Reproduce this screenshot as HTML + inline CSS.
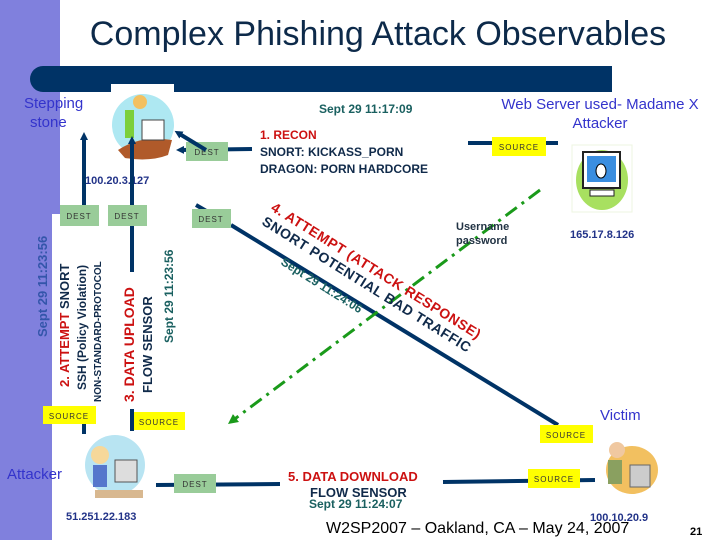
<!DOCTYPE html>
<html><head><meta charset="utf-8"><style>
html,body{margin:0;padding:0;background:#fff;}
svg{display:block;font-family:"Liberation Sans",Arial,sans-serif;font-weight:bold;}
</style></head><body>
<svg width="720" height="540" viewBox="0 0 720 540" xmlns="http://www.w3.org/2000/svg">
<defs>
<marker id="ah" markerWidth="8" markerHeight="8" refX="4" refY="4" orient="auto" markerUnits="userSpaceOnUse"><path d="M0,0 L8,4 L0,8 z" fill="#003366"/></marker>
<marker id="ag" markerWidth="10" markerHeight="10" refX="5" refY="5" orient="auto" markerUnits="userSpaceOnUse"><path d="M0,0 L10,5 L0,10 z" fill="#1a9a1a"/></marker>
</defs>
<rect x="0" y="0" width="60" height="540" fill="#8080dd"/>
<rect x="52" y="214" width="8" height="326" fill="#fff"/>
<text x="378" y="45" text-anchor="middle" font-size="34" font-weight="normal" fill="#0d2a4a">Complex Phishing Attack Observables</text>
<path d="M43,66 H612 V92 H43 A13,13 0 0 1 43,66 z" fill="#003366"/>
<rect x="111" y="84" width="63" height="9" fill="#fff"/>

<circle cx="143" cy="125" r="31" fill="#aee8f2"/>
<path d="M118,150 Q140,135 172,140 L168,155 Q150,162 125,158 z" fill="#b05a2a"/>
<rect x="142" y="120" width="22" height="20" fill="#fff" stroke="#444"/>
<rect x="125" y="110" width="9" height="28" fill="#7ccf3a"/>
<circle cx="140" cy="102" r="7" fill="#f3c060"/>
<text x="24" y="108" font-size="15" fill="#3333cc" font-weight="normal">Stepping</text>
<text x="30" y="127" font-size="15" fill="#3333cc" font-weight="normal">stone</text>

<line x1="252" y1="149" x2="180" y2="150" stroke="#003366" stroke-width="4" marker-end="url(#ah)"/>
<rect x="186" y="142" width="42" height="19" fill="#99cc99"/>
<text x="207" y="155" font-size="8" fill="#333" text-anchor="middle" font-weight="normal" letter-spacing="1">DEST</text>
<text x="319" y="113" font-size="12" fill="#1a6060">Sept 29 11:17:09</text>
<text x="260" y="139" font-size="12" fill="#cc1111">1. RECON</text>
<text x="260" y="156" font-size="12" fill="#102a4a">SNORT: KICKASS_PORN</text>
<text x="260" y="173" font-size="12" fill="#102a4a">DRAGON: PORN  HARDCORE</text>
<line x1="468" y1="143" x2="558" y2="143" stroke="#003366" stroke-width="4"/>
<rect x="492" y="137" width="54" height="19" fill="#ffff00"/>
<text x="519" y="150" font-size="8" fill="#333" text-anchor="middle" font-weight="normal" letter-spacing="1">SOURCE</text>
<text x="600" y="109" font-size="15" fill="#3333cc" text-anchor="middle" font-weight="normal">Web Server used- Madame X</text>
<text x="600" y="128" font-size="15" fill="#3333cc" text-anchor="middle" font-weight="normal">Attacker</text>

<rect x="572" y="145" width="60" height="67" fill="#fff" stroke="#eef5e0"/>
<ellipse cx="602" cy="180" rx="26" ry="30" fill="#a8e060"/>
<rect x="583" y="152" width="37" height="36" fill="#fff" stroke="#222" stroke-width="2"/>
<rect x="587" y="156" width="29" height="26" fill="#3a8ee0"/>
<ellipse cx="601" cy="171" rx="5" ry="7" fill="#fff" stroke="#000"/>
<rect x="590" y="190" width="24" height="6" fill="#fff" stroke="#222"/>
<text x="570" y="238" font-size="11" fill="#223388">165.17.8.126</text>

<text x="85" y="184" font-size="11" fill="#223388">100.20.3.127</text>
<line x1="84" y1="205" x2="84" y2="136" stroke="#003366" stroke-width="4" marker-end="url(#ah)"/>
<rect x="60" y="205" width="39" height="21" fill="#99cc99"/>
<text x="79" y="219" font-size="8" fill="#333" text-anchor="middle" font-weight="normal" letter-spacing="1">DEST</text>
<line x1="132" y1="272" x2="132" y2="140" stroke="#003366" stroke-width="4" marker-end="url(#ah)"/>
<rect x="108" y="205" width="39" height="21" fill="#99cc99"/>
<text x="127" y="219" font-size="8" fill="#333" text-anchor="middle" font-weight="normal" letter-spacing="1">DEST</text>

<line x1="558" y1="425" x2="231" y2="225" stroke="#003366" stroke-width="4"/>
<line x1="206" y1="150" x2="178" y2="133" stroke="#003366" stroke-width="4" marker-end="url(#ah)"/>
<line x1="215" y1="216" x2="196" y2="205" stroke="#003366" stroke-width="4"/>
<rect x="192" y="209" width="39" height="19" fill="#99cc99"/>
<text x="211" y="222" font-size="8" fill="#333" text-anchor="middle" font-weight="normal" letter-spacing="1">DEST</text>

<line x1="540" y1="190" x2="232" y2="421" stroke="#1a9a1a" stroke-width="3" stroke-dasharray="14,6,3,6" marker-end="url(#ag)"/>
<text x="456" y="230" font-size="11" fill="#223344">Username</text>
<text x="456" y="244" font-size="11" fill="#223344">password</text>

<g transform="rotate(32 270 210)">
<text x="270" y="210" font-size="14" fill="#cc1111" letter-spacing="0.5">4. ATTEMPT (ATTACK RESPONSE)</text>
</g>
<g transform="rotate(32 261 224)">
<text x="261" y="224" font-size="14" fill="#102a4a" letter-spacing="0.5">SNORT POTENTIAL BAD TRAFFIC</text>
</g>
<g transform="rotate(32 280 264)">
<text x="280" y="264" font-size="12" fill="#1a6060">Sept 29 11:24:06</text>
</g>

<text transform="rotate(-90 47 337)" x="47" y="337" font-size="13" fill="#3355aa">Sept 29 11:23:56</text>
<text transform="rotate(-90 69 387)" x="69" y="387" font-size="13" fill="#cc1111">2. ATTEMPT <tspan fill="#102a4a">  SNORT</tspan></text>
<text transform="rotate(-90 86 390)" x="86" y="390" font-size="12" fill="#102a4a">SSH (Policy Violation)</text>
<text transform="rotate(-90 101 402)" x="101" y="402" font-size="10" fill="#102a4a">NON-STANDARD-PROTOCOL</text>
<text transform="rotate(-90 134 402)" x="134" y="402" font-size="14" fill="#cc1111">3. DATA UPLOAD</text>
<text transform="rotate(-90 152 393)" x="152" y="393" font-size="13" fill="#102a4a">FLOW SENSOR</text>
<text transform="rotate(-90 173 343)" x="173" y="343" font-size="12" fill="#1a6060">Sept 29 11:23:56</text>

<line x1="84" y1="424" x2="84" y2="434" stroke="#003366" stroke-width="4"/>
<rect x="43" y="406" width="53" height="18" fill="#ffff00"/>
<text x="69" y="419" font-size="8" fill="#333" text-anchor="middle" font-weight="normal" letter-spacing="1">SOURCE</text>
<line x1="132" y1="409" x2="132" y2="431" stroke="#003366" stroke-width="4"/>
<rect x="134" y="412" width="51" height="18" fill="#ffff00"/>
<text x="159" y="425" font-size="8" fill="#333" text-anchor="middle" font-weight="normal" letter-spacing="1">SOURCE</text>

<ellipse cx="115" cy="465" rx="30" ry="30" fill="#b8e4f2"/>
<rect x="95" y="490" width="48" height="8" fill="#d8b890"/>
<rect x="115" y="460" width="22" height="22" fill="#ddd" stroke="#555"/>
<circle cx="100" cy="455" r="9" fill="#f6d89a"/>
<rect x="93" y="465" width="14" height="22" fill="#5577cc"/>
<text x="7" y="479" font-size="15" fill="#3333cc" font-weight="normal">Attacker</text>
<text x="66" y="520" font-size="11" fill="#223388">51.251.22.183</text>

<line x1="156" y1="485" x2="280" y2="484" stroke="#003366" stroke-width="4"/>
<rect x="174" y="474" width="42" height="19" fill="#99cc99"/>
<text x="195" y="487" font-size="8" fill="#333" text-anchor="middle" font-weight="normal" letter-spacing="1">DEST</text>
<text x="288" y="481" font-size="13" fill="#cc1111">5. DATA DOWNLOAD</text>
<text x="310" y="497" font-size="13" fill="#102a4a">FLOW SENSOR</text>
<text x="309" y="508" font-size="12" fill="#1a6060">Sept 29 11:24:07</text>
<line x1="443" y1="482" x2="595" y2="480" stroke="#003366" stroke-width="4"/>
<rect x="528" y="469" width="52" height="19" fill="#ffff00"/>
<text x="554" y="482" font-size="8" fill="#333" text-anchor="middle" font-weight="normal" letter-spacing="1">SOURCE</text>
<rect x="540" y="425" width="53" height="18" fill="#ffff00"/>
<text x="566" y="438" font-size="8" fill="#333" text-anchor="middle" font-weight="normal" letter-spacing="1">SOURCE</text>

<text x="600" y="420" font-size="15" fill="#3333cc" font-weight="normal">Victim</text>
<ellipse cx="632" cy="470" rx="26" ry="24" fill="#f2c060"/>
<circle cx="617" cy="450" r="8" fill="#f0c8a0"/>
<rect x="608" y="460" width="14" height="24" fill="#8aa060"/>
<rect x="630" y="465" width="20" height="22" fill="#ccc" stroke="#666"/>
<text x="590" y="521" font-size="11" fill="#223388">100.10.20.9</text>

<text x="326" y="533" font-size="16" fill="#000" font-weight="normal">W2SP2007 – Oakland, CA – May 24, 2007</text>
<text x="690" y="535" font-size="11" fill="#000">21</text>
</svg>
</body></html>
